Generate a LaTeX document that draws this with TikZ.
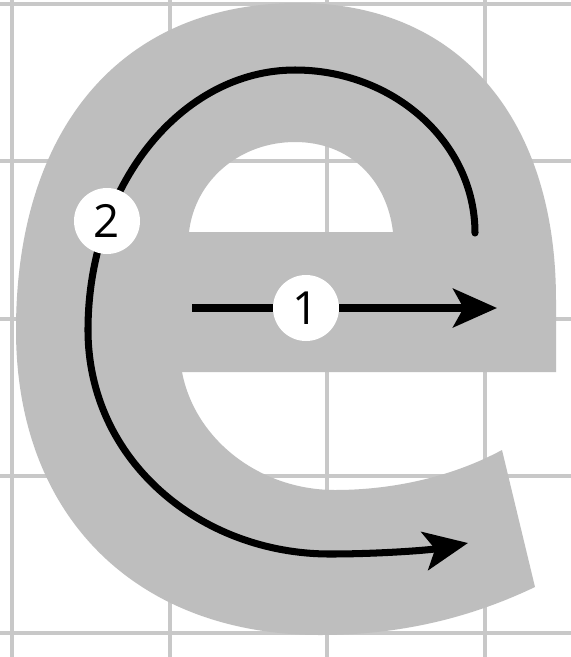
\documentclass[tikz,border=0pt]{standalone}
\usepackage{fontspec}
\newfontfamily\numfont{Open Sans}
\usetikzlibrary{arrows.meta}
\definecolor{letter}{RGB}{190,190,190}
\definecolor{gridgray}{RGB}{200,200,200}
\tikzset{stroke/.style={line width=4pt,-{Stealth[length=25pt,width=22pt,inset=6pt]}},
  num/.style={circle,fill=white,minimum size=1.32cm,inner sep=0pt,font=\numfont\fontsize{26}{26}\selectfont}}

\begin{document}
\begin{tikzpicture}[x=0.02cm,y=-0.02cm]
\useasboundingbox (0,0) rectangle (571,657);
\fill[white] (0,0) rectangle (571,657);
\foreach \gx in {12,170,327,485} \draw[gridgray,line width=2pt] (\gx,0) -- (\gx,657);
\foreach \gy in {4,161,319,476,633} \draw[gridgray,line width=2pt] (0,\gy) -- (571,\gy);
\fill[letter,even odd rule] (556,372) -- (556,300) .. controls (556,120) and (460,3) .. (298,3)
  .. controls (120,3) and (16,130) .. (16,330) .. controls (16,520) and (140,635) .. (320,635)
  .. controls (400,635) and (470,618) .. (535,587) -- (502,450)
  .. controls (450,478) and (390,490) .. (335,490) .. controls (260,490) and (195,440) .. (182,372) -- cycle
  (189,232) .. controls (195,180) and (240,142) .. (295,142) .. controls (350,142) and (387,180) .. (393,232) -- cycle;
\coordinate (s1) at (192,308);
\coordinate (e1) at (497,308);
\coordinate (s2) at (475,233);
\coordinate (e2) at (468,543);
\draw[stroke] (s1) -- (e1);
\draw[stroke,line cap=round] (s2) .. controls (475,143) and (394,70) .. (295,70)
  .. controls (181,70) and (88,186) .. (88,330) .. controls (88,460) and (200,554) .. (330,554)
  .. controls (380,554) and (430,550) .. (e2);
\node[num] (n1) at (306,308) {1};
\node[num] (n2) at (107,221) {2};
\end{tikzpicture}
\end{document}
